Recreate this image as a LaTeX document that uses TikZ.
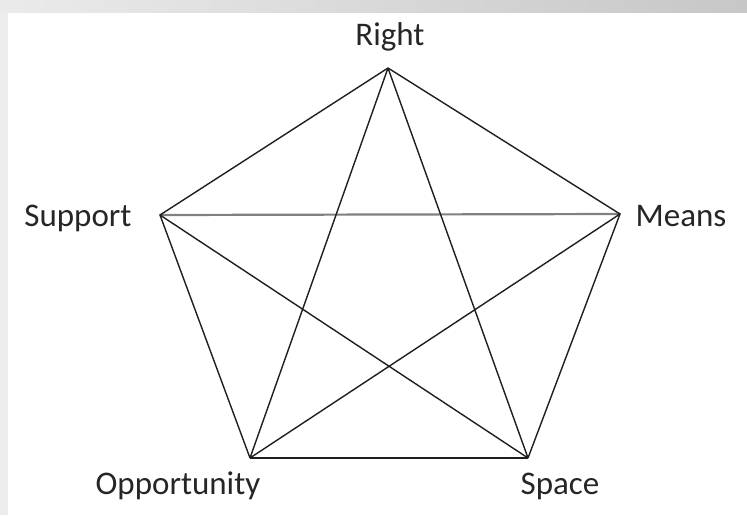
\documentclass[tikz,border=0pt]{standalone}
\usepackage{fontspec}
\setmainfont{Carlito}
\begin{document}
\begin{tikzpicture}[x=1pt,y=-1pt,
  edge/.style={line width=1.4pt, black!88},
  greyedge/.style={line width=2.2pt, black!50},
  lbl/.style={font=\fontsize{33}{37}\selectfont, text=black!85, inner sep=0pt}]
\useasboundingbox (0,0) rectangle (747,515);
\fill[white] (0,0) rectangle (747,515);
\shade[left color=black!8, right color=black!22] (0,0) rectangle (747,12);
\fill[black!7] (0,12) rectangle (8,515);
\coordinate (R) at (388,68);
\coordinate (M) at (620,214);
\coordinate (Su) at (160,215);
\coordinate (O) at (250,458);
\coordinate (Sp) at (528,458);
\draw[greyedge] (Su) -- (M);
\draw[edge] (O) -- (Sp);
\draw[edge] (R) -- (M) -- (Sp) (O) -- (Su) -- (R);
\draw[edge] (R) -- (O) (R) -- (Sp) (Su) -- (Sp) (M) -- (O);
\node[lbl] (lR) at (390,37) {Right};
\node[lbl] (lM) at (681,216) {Means};
\node[lbl] (lSu) at (78,218) {Support};
\node[lbl] (lO) at (178,486) {Opportunity};
\node[lbl] (lSp) at (560,486) {Space};
\end{tikzpicture}
\end{document}
